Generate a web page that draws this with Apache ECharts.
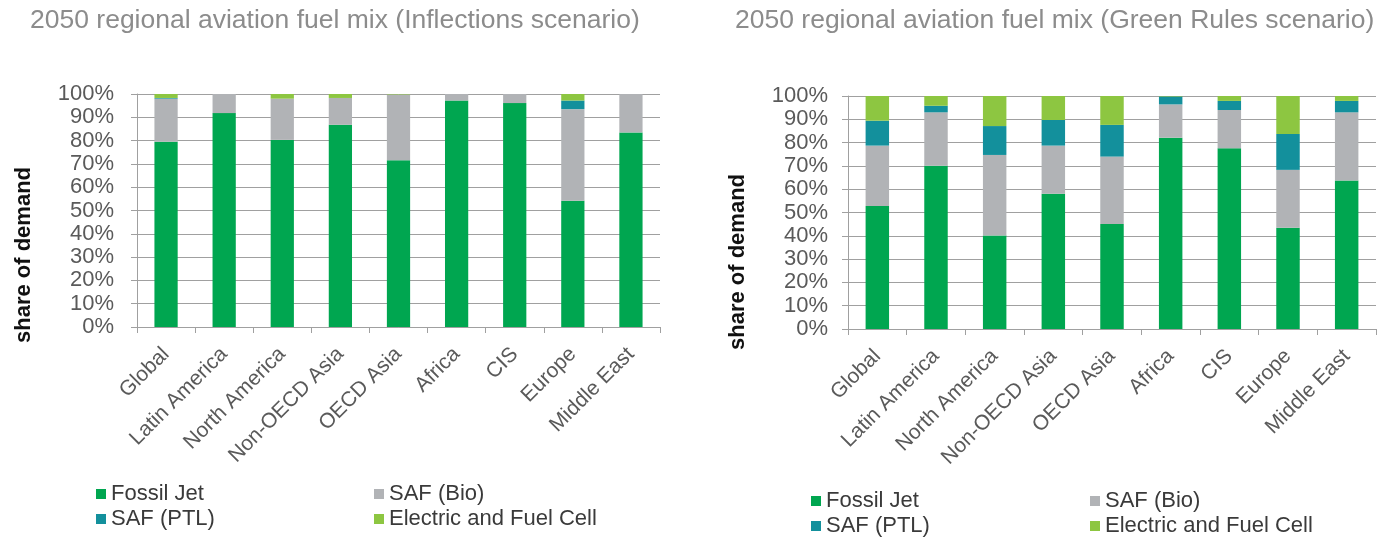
<!DOCTYPE html>
<html>
<head>
<meta charset="utf-8">
<script src="https://cdn.jsdelivr.net/npm/echarts@6/dist/echarts.min.js"></script>
<style>
  html, body { margin: 0; padding: 0; background: #ffffff; }
  #chart { width: 1396px; height: 537px; }
</style>
</head>
<body>
<div id="chart"></div>
<script>
// Regions shown on both panels
const regions = ['Global', 'Latin America', 'North America', 'Non-OECD Asia', 'OECD Asia', 'Africa', 'CIS', 'Europe', 'Middle East'];

// Inflections scenario, share of demand (%)
const fossilInflections = [79.5, 91.8, 80.3, 86.8, 71.6, 97.2, 96.1, 54.2, 83.5];
const bioInflections    = [18.5, 8.2, 17.7, 11.5, 28.2, 2.8, 3.9, 39.3, 16.5];
const ptlInflections    = [0.3, 0, 0, 0, 0, 0, 0, 3.7, 0];
const elecInflections   = [1.7, 0, 2.0, 1.7, 0.2, 0, 0, 2.8, 0];

// Green Rules scenario, share of demand (%)
const fossilGreen = [52.8, 70.1, 40.1, 58.0, 45.1, 82.1, 77.6, 43.5, 63.7];
const bioGreen    = [25.9, 22.9, 34.6, 20.7, 28.9, 14.3, 16.4, 24.8, 29.3];
const ptlGreen    = [10.7, 2.8, 12.4, 11.0, 13.6, 3.4, 3.9, 15.4, 4.9];
const elecGreen   = [10.6, 4.2, 12.9, 10.3, 12.4, 0.2, 2.1, 16.3, 2.1];

const seriesNames = ['Fossil Jet', 'SAF (Bio)', 'SAF (PTL)', 'Electric and Fuel Cell'];
const seriesColors = ['#00a650', '#b1b3b6', '#13909c', '#8dc641'];

const FONT = '"Liberation Sans", Arial, Helvetica, sans-serif';
const labelColor = '#5a5a5a';
const gridColor = '#a0a0a0';

function xAxisFor(gridIndex) {
  return {
    type: 'category',
    gridIndex: gridIndex,
    data: regions,
    axisLine: { lineStyle: { color: gridColor, width: 1 } },
    axisTick: { show: true, length: 6, alignWithLabel: false, lineStyle: { color: gridColor } },
    axisLabel: {
      rotate: 45, interval: 0, margin: 24,
      fontFamily: FONT, fontSize: 21, color: labelColor
    }
  };
}

function yAxisFor(gridIndex, labelMargin) {
  return {
    type: 'value',
    gridIndex: gridIndex,
    min: 0, max: 100, interval: 10,
    axisLine: { show: true, lineStyle: { color: gridColor, width: 1 } },
    axisTick: { show: true, length: 6, lineStyle: { color: gridColor } },
    splitLine: { show: true, lineStyle: { color: gridColor, width: 1 } },
    axisLabel: {
      formatter: '{value}%', margin: labelMargin,
      fontFamily: FONT, fontSize: 22, color: labelColor
    }
  };
}

function stackFor(gridIndex, arrays) {
  return arrays.map((vals, i) => ({
    name: seriesNames[i],
    type: 'bar',
    stack: 'mix' + gridIndex,
    xAxisIndex: gridIndex,
    yAxisIndex: gridIndex,
    barCategoryGap: '60%',
    itemStyle: { color: seriesColors[i] },
    emphasis: { disabled: true },
    data: vals
  }));
}

function legendColumn(left, top, names) {
  return {
    orient: 'vertical',
    left: left, top: top,
    height: 60,
    padding: 0,
    data: names,
    icon: 'rect',
    itemWidth: 10, itemHeight: 10,
    itemGap: 3,
    selectedMode: false,
    textStyle: { fontFamily: FONT, fontSize: 22, lineHeight: 22, color: '#3a3a3a' }
  };
}

const titleStyle = { fontFamily: FONT, fontSize: 26.5, fontWeight: 'normal', color: '#8c8c8c' };

const option = {
  animation: false,
  backgroundColor: '#ffffff',
  title: [
    { text: '2050 regional aviation fuel mix (Inflections scenario)', left: 25, top: 2, textStyle: titleStyle },
    { text: '2050 regional aviation fuel mix (Green Rules scenario)', left: 730, top: 2, textStyle: titleStyle }
  ],
  legend: [
    legendColumn(96, 483, ['Fossil Jet', 'SAF (PTL)']),
    legendColumn(374, 483, ['SAF (Bio)', 'Electric and Fuel Cell']),
    legendColumn(811, 490, ['Fossil Jet', 'SAF (PTL)']),
    legendColumn(1090, 490, ['SAF (Bio)', 'Electric and Fuel Cell'])
  ],
  grid: [
    { left: 137, top: 94, width: 523, height: 233 },
    { left: 848, top: 96, width: 528, height: 233 }
  ],
  xAxis: [xAxisFor(0), xAxisFor(1)],
  yAxis: [yAxisFor(0, 23), yAxisFor(1, 20)],
  series: [
    ...stackFor(0, [fossilInflections, bioInflections, ptlInflections, elecInflections]),
    ...stackFor(1, [fossilGreen, bioGreen, ptlGreen, elecGreen])
  ],
  graphic: [
    {
      type: 'text', x: 24, y: 255, rotation: Math.PI / 2,
      style: { text: 'share of demand', font: 'bold 22px ' + FONT, fill: '#111111', textAlign: 'center', textVerticalAlign: 'middle' }
    },
    {
      type: 'text', x: 738, y: 262, rotation: Math.PI / 2,
      style: { text: 'share of demand', font: 'bold 22px ' + FONT, fill: '#111111', textAlign: 'center', textVerticalAlign: 'middle' }
    }
  ]
};

const chart = echarts.init(document.getElementById('chart'), null, { renderer: 'canvas' });
chart.setOption(option);
</script>
</body>
</html>
